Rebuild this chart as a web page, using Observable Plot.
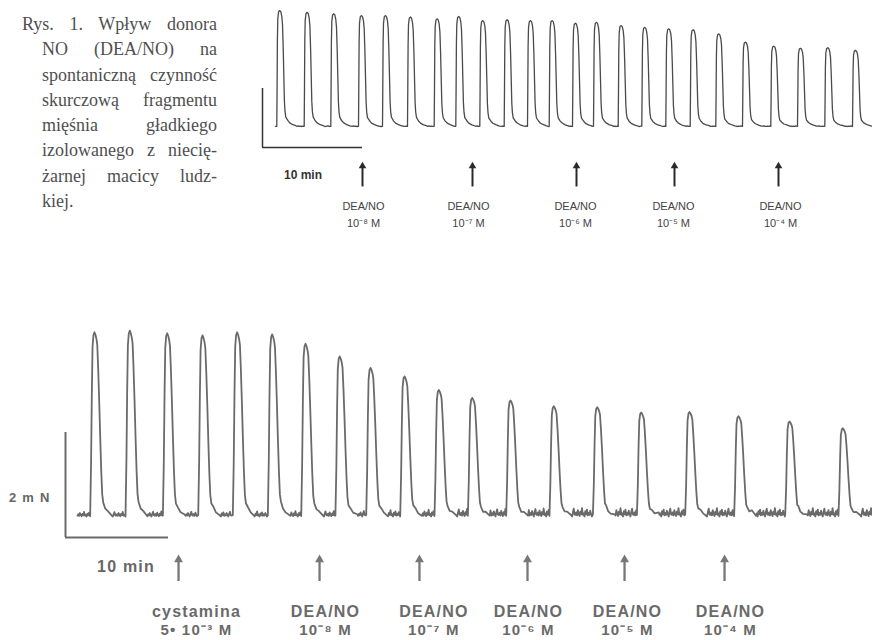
<!DOCTYPE html>
<html>
<head>
<meta charset="utf-8">
<script src="https://cdn.jsdelivr.net/npm/d3@7"></script>
<script src="https://cdn.jsdelivr.net/npm/@observablehq/plot@0.6"></script>
<style>
  html, body { margin: 0; padding: 0; background: #fff; }
  #wrap { position: relative; width: 872px; height: 640px; overflow: hidden; background: #fff; }
  #wrap .layer { position: absolute; left: 0; top: 0; width: 872px; height: 640px; }
  #wrap svg { position: absolute; left: 0; top: 0; background: transparent; max-width: none; }
  #caption { position: absolute; left: 42px; top: 12px; width: 175px;
    font-family: "Liberation Serif", "DejaVu Serif", serif; font-size: 18px; line-height: 25.3px; color: #4f4f4f; }
  #caption div { text-align: justify; text-align-last: justify; }
  #caption div.first { margin-left: -20px; }
  #caption div.last { text-align-last: left; }
  #bot text { letter-spacing: 1.2px; }
</style>
</head>
<body>
<div id="wrap">
  <div id="caption"></div>
  <div class="layer" id="top"></div>
  <div class="layer" id="bot"></div>
</div>
<script>
// ---------------- data ----------------
const captionLines = [
  "Rys. 1.  Wpływ donora",
  "NO (DEA/NO) na",
  "spontaniczną czynność",
  "skurczową fragmentu",
  "mięśnia gładkiego",
  "izolowanego z niecię-",
  "żarnej macicy ludz-",
  "kiej."
];

// upper trace: peak times (min) and amplitudes (mN)
const topPeakTime = [0.43, 3.17, 5.83, 8.6, 11.0, 13.5, 16.17, 18.33, 20.73, 23.17, 25.5, 27.67,
                     30.0, 32.1, 34.57, 36.93, 39.33, 41.77, 44.33, 47.0, 49.83, 52.5, 55.23, 58.0];
const topPeakAmp  = [3.93, 3.87, 3.82, 3.76, 3.76, 3.71, 3.65, 3.73, 3.59, 3.62, 3.59, 3.59,
                     3.50, 3.53, 3.42, 3.36, 3.31, 3.28, 3.14, 2.86, 2.72, 2.65, 2.67, 2.58];
const topArrowTime = [8.7, 19.7, 30.1, 39.9, 50.3];
const topLabelTime = [8.8, 19.3, 30.0, 39.8, 50.5];
const topAgents = ["DEA/NO", "DEA/NO", "DEA/NO", "DEA/NO", "DEA/NO"];
const topDoses  = ["10⁻⁸ M", "10⁻⁷ M", "10⁻⁶ M", "10⁻⁵ M", "10⁻⁴ M"];

// lower trace
const bottomPeakTime = [1.65, 5.08, 8.71, 12.14, 15.50, 18.90, 22.14, 25.46, 28.45, 31.75,
                        35.08, 38.32, 42.04, 46.24, 50.46, 54.73, 59.42, 64.17, 69.13, 74.30];
const bottomPeakAmp  = [3.51, 3.54, 3.49, 3.45, 3.51, 3.47, 3.29, 3.05, 2.83, 2.67,
                        2.41, 2.26, 2.21, 2.10, 2.08, 1.98, 1.99, 1.91, 1.81, 1.68];
const bottomNoiseLevel = [0.55, 0.55, 0.6, 0.6, 0.6, 0.6, 0.65, 0.65, 0.7, 0.75,
                          0.8, 0.9, 0.9, 0.95, 1, 1, 1, 1, 1, 1];
const bottomArrowTime = [9.81, 23.50, 33.20, 43.69, 53.11, 62.82];
const bottomLabelTime = [11.55, 24.08, 34.6, 43.79, 53.4, 63.4];
const bottomAgents = ["cystamina", "DEA/NO", "DEA/NO", "DEA/NO", "DEA/NO", "DEA/NO"];
const bottomDoses  = ["5• 10⁻³ M", "10⁻⁸ M", "10⁻⁷ M", "10⁻⁶ M", "10⁻⁵ M", "10⁻⁴ M"];

// shape of one contraction: [minutes from peak, fraction of peak amplitude]
const pulseShapeTop = [[-0.3, 0], [-0.27, 0.35], [-0.24, 0.75], [-0.2, 0.93], [-0.12, 0.99], [0, 1],
  [0.1, 0.99], [0.2, 0.95], [0.27, 0.88], [0.34, 0.68], [0.4, 0.45], [0.46, 0.22], [0.52, 0.13],
  [0.6, 0.08], [0.8, 0.05], [1.0, 0.03], [1.3, 0.015], [1.6, 0.005]];
const pulseShapeBottom = [[-0.42, 0], [-0.33, 0.3], [-0.26, 0.66], [-0.19, 0.92], [-0.1, 0.985], [0, 1],
  [0.1, 0.985], [0.2, 0.96], [0.27, 0.93], [0.36, 0.8], [0.46, 0.62], [0.56, 0.42], [0.66, 0.24],
  [0.75, 0.12], [0.85, 0.07], [1.05, 0.04], [1.3, 0.02], [1.7, 0]];
// baseline texture of the recording (mN)
const baselineNoise = [0.03, 0.08, 0.02, 0.12, 0.05, 0.01, 0.09, 0.04, 0.16, 0.03, 0.06, 0.0,
                       0.1, 0.04, 0.13, 0.02, 0.07, 0.03, 0.11, 0.05, 0.0, 0.08, 0.15, 0.04];

// ---------------- build the traces ----------------
function buildTrace(times, amps, shape, tStart, tEnd, step, level) {
  const pts = [];
  let k = 0;
  const nz = () => baselineNoise[k++ % baselineNoise.length];
  const lv = i => (typeof level === "number" ? level : level[Math.min(i, level.length - 1)]);
  let cursor = tStart;
  times.forEach((T, i) => {
    const a = T + shape[0][0];
    for (let t = cursor; t < a - step / 2; t += step) pts.push({t, v: nz() * lv(i)});
    for (const [dt, f] of shape) pts.push({t: T + dt, v: f * amps[i] + (f < 0.1 ? nz() * lv(i) * 0.5 : 0)});
    cursor = T + shape[shape.length - 1][0] + step;
  });
  for (let t = cursor; t <= tEnd; t += step) pts.push({t, v: nz() * lv(times.length - 1)});
  return pts;
}

const topTrace = buildTrace(topPeakTime, topPeakAmp, pulseShapeTop, 0, 58.8, 0.12, 0.15);
const bottomTrace = buildTrace(bottomPeakTime, bottomPeakAmp, pulseShapeBottom, 0, 77.6, 0.08, bottomNoiseLevel);

// caption
const cap = document.getElementById("caption");
captionLines.forEach((s, i) => {
  const d = document.createElement("div");
  d.textContent = s;
  if (i === 0) d.className = "first";
  if (i === captionLines.length - 1) d.className = "last";
  cap.appendChild(d);
});

const FONT = "Liberation Sans, Arial, Helvetica, sans-serif";

// ---------------- upper recording ----------------
const topPlot = Plot.plot({
  width: 872, height: 640, margin: 0,
  style: {background: "transparent", overflow: "visible"},
  x: {type: "linear", domain: [0, 10], range: [275, 375], axis: null},
  y: {type: "linear", domain: [0, 2], range: [126, 67], axis: null},
  marks: [
    Plot.line(topTrace, {x: "t", y: "v", stroke: "#4a4a4a", strokeWidth: 1.3, strokeLinejoin: "round"}),
    // calibration bars: 2 mN, 10 min
    Plot.ruleX([-1.3], {x: d => d, y1: -0.712, y2: 1.288, stroke: "#333", strokeWidth: 1.5}),
    Plot.ruleY([-0.712], {y: d => d, x1: -1.3, x2: 8.7, stroke: "#333", strokeWidth: 1.5}),
    Plot.text(["10 min"], {x: 2.75, y: -1.66, text: d => d, fontFamily: FONT, fontSize: 12, fontWeight: "bold", fill: "#333"}),
    // arrows
    Plot.ruleX(topArrowTime, {x: d => d, y1: -2.05, y2: -1.35, stroke: "#2a2a2a", strokeWidth: 2}),
    Plot.dot(topArrowTime, {x: d => d, y: -1.2, symbol: "triangle", r: 2.8, fill: "#2a2a2a", stroke: "none", dy: 4.2}),
    Plot.text(topLabelTime, {x: d => d, y: -2.71, text: (d, i) => topAgents[i], fontFamily: FONT, fontSize: 11, fill: "#444"}),
    Plot.text(topLabelTime, {x: d => d, y: -3.29, text: (d, i) => topDoses[i], fontFamily: FONT, fontSize: 11, fill: "#444"})
  ]
});
document.getElementById("top").appendChild(topPlot);

// ---------------- lower recording ----------------
const bottomPlot = Plot.plot({
  width: 872, height: 640, margin: 0,
  style: {background: "transparent", overflow: "hidden"},
  x: {type: "linear", domain: [0, 10], range: [77, 180], axis: null},
  y: {type: "linear", domain: [0, 2], range: [516, 411], axis: null},
  marks: [
    Plot.line(bottomTrace, {x: "t", y: "v", stroke: "#6a6a6a", strokeWidth: 1.8, strokeLinejoin: "round"}),
    Plot.ruleX([-1.165], {x: d => d, y1: -0.4, y2: 1.6, stroke: "#6a6a6a", strokeWidth: 2}),
    Plot.ruleY([-0.4], {y: d => d, x1: -1.165, x2: 8.835, stroke: "#6a6a6a", strokeWidth: 2}),
    Plot.text(["2 m N"], {x: -2.62, y: 0.362, text: d => d, textAnchor: "end", fontFamily: FONT, fontSize: 13, fontWeight: "bold", fill: "#666"}),
    Plot.text(["10 min"], {x: 4.71, y: -0.952, text: d => d, fontFamily: FONT, fontSize: 16, fontWeight: "bold", fill: "#666"}),
    Plot.ruleX(bottomArrowTime, {x: d => d, y1: -1.238, y2: -0.8, stroke: "#777", strokeWidth: 2.3}),
    Plot.dot(bottomArrowTime, {x: d => d, y: -0.724, symbol: "triangle", r: 3.3, fill: "#777", stroke: "none", dy: 5.1}),
    Plot.text(bottomLabelTime, {x: d => d, y: -1.81, text: (d, i) => bottomAgents[i], fontFamily: FONT, fontSize: 16, fontWeight: "bold", fill: "#6a6a6a"}),
    Plot.text(bottomLabelTime, {x: d => d, y: -2.17, text: (d, i) => bottomDoses[i], fontFamily: FONT, fontSize: 15, fontWeight: "bold", fill: "#6a6a6a"})
  ]
});
document.getElementById("bot").appendChild(bottomPlot);
</script>
</body>
</html>
